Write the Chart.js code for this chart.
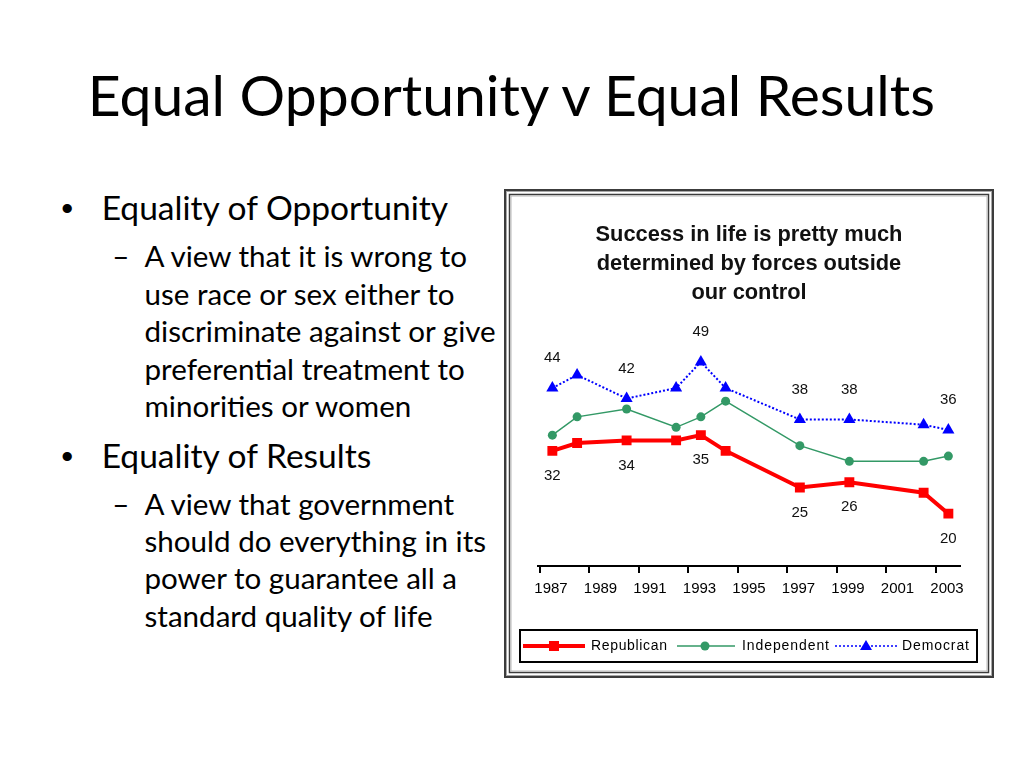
<!DOCTYPE html>
<html><head><meta charset="utf-8">
<script src="https://cdn.jsdelivr.net/npm/chart.js@4.4.1/dist/chart.umd.min.js"></script>
<style>
html,body{margin:0;padding:0;background:#fff;}
body{width:1024px;height:768px;position:relative;overflow:hidden;font-family:Lato,'Open Sans',sans-serif;color:#000;}
.t{position:absolute;white-space:nowrap;line-height:1;}
#chartBox{position:absolute;left:500px;top:185px;width:500px;height:500px;}
</style></head>
<body>
<div id="slide"></div>
<div id="chartBox"><canvas id="c" width="500" height="500"></canvas></div>
<script>
// ---- chart data ----
const years = [1987, 1988, 1990, 1992, 1993, 1994, 1997, 1999, 2002, 2003];
const republican = [32, 33.5, 34, 34, 35, 32, 25, 26, 24, 20];
const independent = [35, 38.5, 40, 36.5, 38.5, 41.5, 33, 30, 30, 31];
const democrat = [44, 46.5, 42, 44, 49, 44, 38, 38, 37, 36];
const tickYears = [1987, 1989, 1991, 1993, 1995, 1997, 1999, 2001, 2003];
const seriesNames = ['Republican', 'Independent', 'Democrat'];
const chartTitle = ['Success in life is pretty much', 'determined by forces outside', 'our control'];
const repLabelIdx = [0, 2, 4, 6, 7, 9];
const demLabelIdx = [0, 2, 4, 6, 7, 9];

// ---- slide text ----
const slideTitle = 'Equal Opportunity v Equal Results';
const slideLines = [
  {lvl:1, text:'Equality of Opportunity', base:219.5, mark:true},
  {lvl:2, text:'A view that it is wrong to', base:267, mark:true},
  {lvl:2, text:'use race or sex either to', base:304.5},
  {lvl:2, text:'discriminate against or give', base:342},
  {lvl:2, text:'preferential treatment to', base:379.5},
  {lvl:2, text:'minorities or women', base:417},
  {lvl:1, text:'Equality of Results', base:467.5, mark:true},
  {lvl:2, text:'A view that government', base:514.5, mark:true},
  {lvl:2, text:'should do everything in its', base:552},
  {lvl:2, text:'power to guarantee all a', base:589},
  {lvl:2, text:'standard quality of life', base:626.5}
];

const mctx = document.createElement('canvas').getContext('2d');
function textW(t, font){ mctx.font = font; return mctx.measureText(t).width; }
const FAM = "Lato, 'Open Sans', sans-serif";
const titleSz = 60 * 851.6 / textW(slideTitle, '60px ' + FAM);
const l1Sz = 40 * 348 / textW('Equality of Opportunity', '40px ' + FAM);
const l2Sz = 40 * 352 / textW('discriminate against or give', '40px ' + FAM);

const slide = document.getElementById('slide');
function place(text, size, left, base, family){
  const d = document.createElement('div');
  d.className = 't';
  d.style.fontSize = size + 'px';
  if (family) d.style.fontFamily = family;
  d.style.left = left + 'px';
  d.style.top = '0px';
  d.appendChild(document.createTextNode(text));
  const m = document.createElement('span');
  m.style.cssText = 'display:inline-block;width:0;height:0;';
  d.appendChild(m);
  slide.appendChild(d);
  const off = m.getBoundingClientRect().top - d.getBoundingClientRect().top;
  d.style.top = (base - off) + 'px';
  return d;
}
place(slideTitle, titleSz, 87.7, 116);
slideLines.forEach(l => {
  if (l.lvl === 1) {
    place(l.text, l1Sz, 101.7, l.base);
    if (l.mark) {
      const bw = textW('\u2022', "34px 'Liberation Sans', Arial, sans-serif");
      place('\u2022', 34, 67.3 - bw / 2, l.base, "'Liberation Sans', Arial, sans-serif");
    }
  } else {
    place(l.text, l2Sz, 144.5, l.base);
    if (l.mark) place('\u2013', l2Sz, 112.3, l.base);
  }
});

// ---- chart ----
const CF = "'Liberation Sans', Arial, sans-serif";
const TF = "'Liberation Sans Narrow', 'Liberation Sans', Arial, sans-serif";
const cTitleSz = 20 * 307 / textW(chartTitle[0], 'bold 20px ' + TF);
const RED = '#ff0000', GREEN = '#339966', BLUE = '#0000ff';

const framePlugin = {
  id: 'frame',
  beforeDraw(chart){
    const c = chart.ctx;
    c.save();
    c.fillStyle = '#fff';
    c.fillRect(0, 0, chart.width, chart.height);
    c.strokeStyle = '#3c3c3c'; c.lineWidth = 2;
    c.strokeRect(5, 5, 488, 487);
    c.strokeStyle = '#a8a8a8'; c.lineWidth = 1;
    c.strokeRect(6.5, 6.5, 485, 484);
    c.strokeStyle = '#3c3c3c'; c.lineWidth = 1.5;
    c.strokeRect(9.5, 9.5, 479, 478);
    c.strokeStyle = '#b8b8b8'; c.lineWidth = 1;
    c.strokeRect(11, 11, 476, 475);
    c.restore();
  }
};

const labelPlugin = {
  id: 'valueLabels',
  afterDatasetsDraw(chart){
    const c = chart.ctx;
    c.save();
    c.font = '15px ' + CF;
    c.fillStyle = '#111';
    c.textAlign = 'center';
    c.textBaseline = 'middle';
    const rm = chart.getDatasetMeta(0), dm = chart.getDatasetMeta(2);
    repLabelIdx.forEach(i => { const p = rm.data[i]; c.fillText(String(republican[i]), p.x, p.y + 25); });
    demLabelIdx.forEach(i => { const p = dm.data[i]; c.fillText(String(democrat[i]), p.x, p.y - 30); });
    c.restore();
  }
};

const legendPlugin = {
  id: 'boxLegend',
  afterDraw(chart){
    const c = chart.ctx;
    c.save();
    c.strokeStyle = '#000'; c.lineWidth = 2;
    c.strokeRect(20, 445, 457, 32);
    const y = 461;
    // Republican
    c.strokeStyle = RED; c.lineWidth = 4; c.setLineDash([]);
    c.beginPath(); c.moveTo(23, y); c.lineTo(85, y); c.stroke();
    c.fillStyle = RED; c.fillRect(49, y - 5, 10, 10);
    // Independent
    c.strokeStyle = GREEN; c.lineWidth = 1.5;
    c.beginPath(); c.moveTo(177, y); c.lineTo(235, y); c.stroke();
    c.fillStyle = GREEN; c.beginPath(); c.arc(205, y, 4.5, 0, Math.PI * 2); c.fill();
    // Democrat
    c.strokeStyle = BLUE; c.lineWidth = 1.5; c.setLineDash([2, 2]);
    c.beginPath(); c.moveTo(335, y); c.lineTo(398, y); c.stroke();
    c.setLineDash([]);
    c.fillStyle = BLUE; c.beginPath();
    c.moveTo(366, y - 6); c.lineTo(372, y + 4); c.lineTo(360, y + 4); c.closePath(); c.fill();
    // texts
    c.fillStyle = '#000'; c.textBaseline = 'middle'; c.textAlign = 'left';
    c.font = '14px ' + CF;
    const items = [[seriesNames[0], 91, 76], [seriesNames[1], 242, 87], [seriesNames[2], 402, 67]];
    items.forEach(([t, x, w]) => {
      c.letterSpacing = '0px';
      const w0 = c.measureText(t).width;
      const sp = Math.max(0, (w - w0) / (t.length - 1));
      c.letterSpacing = sp + 'px';
      c.fillText(t, x, y);
    });
    c.letterSpacing = '0px';
    c.restore();
  }
};

new Chart(document.getElementById('c'), {
  type: 'line',
  data: {
    datasets: [
      { label: seriesNames[0], data: years.map((x, i) => ({x, y: republican[i]})),
        borderColor: RED, backgroundColor: RED, borderWidth: 4, tension: 0,
        pointStyle: 'rect', pointRadius: 7, pointBorderWidth: 0, pointBackgroundColor: RED },
      { label: seriesNames[1], data: years.map((x, i) => ({x, y: independent[i]})),
        borderColor: GREEN, backgroundColor: GREEN, borderWidth: 1.5, tension: 0,
        pointStyle: 'circle', pointRadius: 4.5, pointBorderWidth: 0, pointBackgroundColor: GREEN },
      { label: seriesNames[2], data: years.map((x, i) => ({x, y: democrat[i]})),
        borderColor: BLUE, backgroundColor: BLUE, borderWidth: 2, borderDash: [2, 2], tension: 0,
        pointStyle: 'triangle', pointRadius: 7, pointBorderWidth: 0, pointBackgroundColor: BLUE }
    ]
  },
  options: {
    responsive: false,
    animation: false,
    events: [],
    layout: { padding: { left: 38, right: 40, top: 0, bottom: 79 } },
    plugins: {
      legend: { display: false },
      tooltip: { enabled: false },
      title: {
        display: true, text: chartTitle, color: '#111',
        font: { family: TF, size: cTitleSz, weight: 'bold', lineHeight: 29 / cTitleSz },
        padding: { top: 35.5, bottom: 23 }
      }
    },
    scales: {
      x: {
        type: 'linear', min: 1986.42, max: 2003.47,
        afterBuildTicks: s => { s.ticks = tickYears.map(v => ({ value: v - 0.5 })); },
        afterFit: s => { s.height = 40; },
        ticks: {
          callback: (v, i) => String(tickYears[i]),
          labelOffset: 11, padding: 7, maxRotation: 0, autoSkip: false,
          color: '#000', font: { family: CF, size: 15 }
        },
        grid: { display: true, drawOnChartArea: false, drawTicks: true, tickLength: 7, color: '#000', lineWidth: 2 },
        border: { display: true, color: '#000', width: 2 }
      },
      y: { display: false, min: 10, max: 55 }
    }
  },
  plugins: [framePlugin, labelPlugin, legendPlugin]
});
</script>
</body></html>
